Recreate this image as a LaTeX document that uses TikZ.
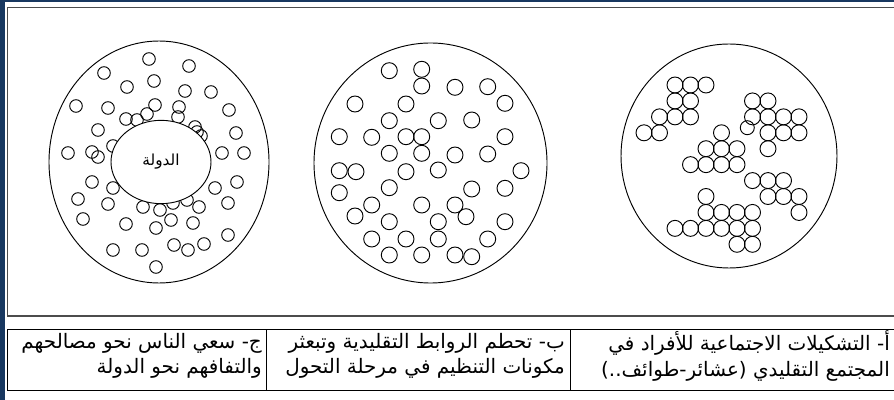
\documentclass[tikz,border=0pt]{standalone}
\usepackage{fontspec}
\usetikzlibrary{shapes.geometric}
\newfontfamily\arabicfont[Script=Arabic]{DejaVu Sans}
\TeXXeTstate=1
\definecolor{framenavy}{RGB}{24,56,96}
\tikzstyle{bigring} = [draw=black, line width=0.8pt]
\tikzstyle{member} = [draw=black, line width=0.8pt]
\tikzstyle{statebox} = [ellipse, draw=black, fill=white, line width=0.8pt, minimum width=3cm, minimum height=2.5cm, inner sep=0pt, font=\arabicfont\fontsize{13}{15}\selectfont]
\tikzstyle{cellnote} = [align=right, anchor=east, inner sep=0pt, font=\arabicfont\fontsize{17}{21.5}\selectfont]
\tikzstyle{framerule} = [draw=black!70, line width=1.4pt]
\tikzstyle{cellrule} = [draw=black, line width=0.8pt]

\begin{document}
\begin{tikzpicture}[x=0.03cm, y=-0.03cm]
  \fill[framenavy] (0,0) rectangle (894,400);
  \fill[white] (5,2) rectangle (894,400);
  \useasboundingbox (0,0) rectangle (894,400);
  % frame round the three societies
  \draw[framerule] (894,7.5) -- (7.5,7.5) -- (7.5,316) -- (894,316);
  % table of captions
  \draw[cellrule] (894,329) -- (7,329) -- (7,390) -- (894,390);
  \draw[cellrule] (266,329) -- (266,390);
  \draw[cellrule] (570,329) -- (570,390);

  % c: people round the state
  \draw[bigring] (159,162) ellipse [x radius=110, y radius=121];
  \foreach \x/\y in {149/59,189/66,104/73,154/81,127/87,185/91,211/92,76/106,108/108,155/105,179/107,229/110,126/119,147/114,178/117,98/130,236/133,195/127,201/136,68/153,92/152,98/157,113/146,222/153,244/153,92/182,113/188,237/182,215/188,78/199,108/204,228/203,199/207,83/219,126/224,156/228,171/220,193/223,143/207,160/210,173/203,187/200,113/250,142/250,174/245,188/250,204/244,228/235,156/267,137/120,197/132}
    \draw[member] (\x,\y) circle [radius=6.3];
  \node[statebox] (state) at (161,162) {\beginR الدولة\endR};

  % b: scattered members
  \draw[bigring] (430.5,163) ellipse [x radius=116.5, y radius=120];
  \foreach \x/\y in {389.3/70.7,421.7/69.3,421.7/86,455/87.3,487.7/86.7,505/103.3,355/104,406/104,389.3/120.7,438.3/120.7,471.7/120,339.3/136.7,371.7/137.3,406/136.7,421.7/136.7,505/136.7,389.3/153.3,421.7/153.3,455/155,487.7/154,339.3/170.7,356/171.7,406/171.7,438.3/170,521/170.7,339.3/192.7,389.3/187.7,471.7/189,505/188.3,371.7/205,355/216,421.7/205,455/205,466/216.7,389.3/221.7,438.3/221.7,505/221.7,371.7/239,406/239,438.3/239,487.7/239,389.3/255,421.7/255,455/255,471.7/256.7}
    \draw[member] (\x,\y) circle [radius=8];

  % a: clusters (column/row on a grid)
  \draw[bigring] (729,156) ellipse [x radius=108, y radius=112];
  \foreach \c/\r in {2/0,3/0,4/0,2/1,3/1,1/2,2/2,3/2,0/3,1/3,
                     7/1,8/1,7/2,8/2,9/2,10/2,8/3,9/3,10/3,8/4,
                     5/3,4/4,5/4,6/4,3/5,4/5,5/5,6/5,
                     7/6,8/6,9/6,8/7,9/7,10/7,10/8,
                     4/7,4/8,5/8,6/8,7/8,2/9,3/9,4/9,5/9,6/9,7/9,6/10,7/10}
    \draw[member] ({644+15.5*\c},{85+15.93*\r}) circle [radius=8];
  \draw[member] (747.3,127.7) circle [radius=7];

  % captions
  \node[cellnote] (noteA) at (890,356) {\beginR أ- التشكيلات الاجتماعية للأفراد في\endR\\\beginR المجتمع التقليدي (عشائر-طوائف..)\endR};
  \node[cellnote] (noteB) at (565,356) {\beginR ب- تحطم الروابط التقليدية وتبعثر\endR\\\beginR مكونات التنظيم في مرحلة التحول\endR};
  \node[cellnote] (noteC) at (262,356) {\beginR ج- سعي الناس نحو مصالحهم\endR\\\beginR والتفافهم نحو الدولة\endR};
\end{tikzpicture}
\end{document}
